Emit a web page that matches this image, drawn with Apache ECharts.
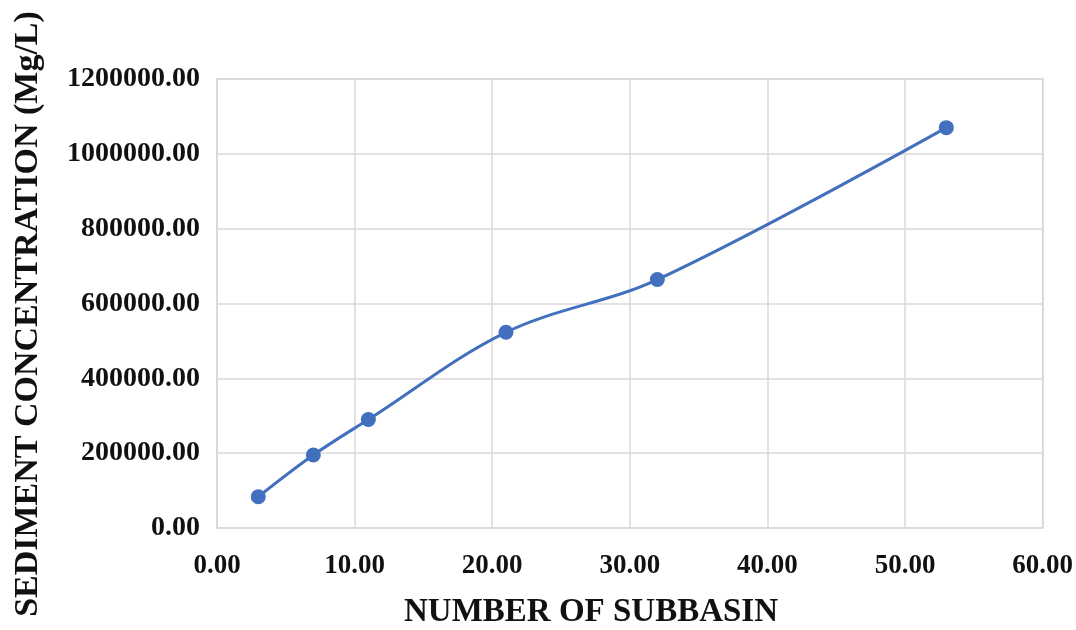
<!DOCTYPE html>
<html>
<head>
<meta charset="utf-8">
<script src="https://cdn.jsdelivr.net/npm/echarts@6/dist/echarts.min.js"></script>
<style>
html,body{margin:0;padding:0;background:#fff;}
#chart{width:1076px;height:630px;}
</style>
</head>
<body>
<div id="chart"></div>
<script>
// Data
const subbasins = [3, 7, 11, 21, 32, 53];
const sediment = [83500, 195000, 290000, 523000, 664000, 1070000];
const xTitle = 'NUMBER OF SUBBASIN';
const yTitle = 'SEDIMENT CONCENTRATION (Mg/L)';

const points = subbasins.map((x, i) => [x, sediment[i]]);

const chart = echarts.init(document.getElementById('chart'));
chart.setOption({
  animation: false,
  backgroundColor: '#fff',
  grid: { left: 217, right: 31, top: 79, bottom: 102, show: true, borderColor: '#d4d4d4', borderWidth: 1.5 },
  xAxis: {
    type: 'value', min: 0, max: 60, interval: 10,
    axisLine: { show: false },
    axisTick: { show: false },
    splitLine: { show: true, lineStyle: { color: '#d9d9d9', width: 1.5 } },
    axisLabel: {
      margin: 25,
      fontFamily: 'Liberation Serif', fontWeight: 'bold', fontSize: 27, color: '#111',
      formatter: v => v.toFixed(2)
    }
  },
  yAxis: {
    type: 'value', min: 0, max: 1200000, interval: 200000,
    axisLine: { show: false },
    axisTick: { show: false },
    splitLine: { show: true, lineStyle: { color: '#d9d9d9', width: 1.5 } },
    axisLabel: {
      margin: 17,
      fontFamily: 'Liberation Serif', fontWeight: 'bold', fontSize: 28, color: '#111',
      formatter: v => v.toFixed(2)
    }
  },
  graphic: [
    {
      type: 'text', x: 591, y: 612,
      style: { text: xTitle, font: 'bold 33px "Liberation Serif"', fill: '#111', align: 'center', verticalAlign: 'middle' }
    },
    {
      type: 'text', x: 28, y: 314, rotation: Math.PI / 2,
      style: { text: yTitle, font: 'bold 34px "Liberation Serif"', fill: '#111', align: 'center', verticalAlign: 'middle' }
    }
  ],
  series: [{
    type: 'line',
    data: points,
    smooth: 0.35,
    symbol: 'circle',
    symbolSize: 15,
    lineStyle: { color: '#4370BE', width: 3 },
    itemStyle: { color: '#4370BE' }
  }]
});
</script>
</body>
</html>
